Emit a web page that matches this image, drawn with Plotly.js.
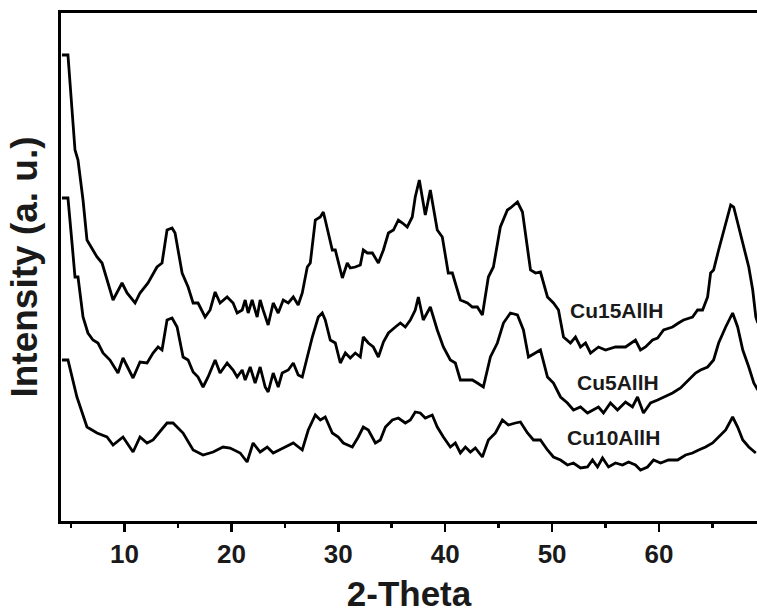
<!DOCTYPE html>
<html>
<head>
<meta charset="utf-8">
<script src="https://cdn.plot.ly/plotly-3.0.1.min.js"></script>
<style>html,body{margin:0;padding:0;background:#fff;}#chart{width:757px;height:613px;}</style>
</head>
<body>
<div id="chart"></div>
<script>
// 2-Theta (degrees) and intensity (a.u., offset-stacked)
const cu15X = [4.15,4.71,5.37,5.65,6.12,6.49,7.43,7.90,8.93,9.77,10.24,10.99,11.45,12.20,13.04,13.51,13.98,14.45,14.73,15.39,15.95,16.42,16.88,17.54,18.01,18.48,18.94,19.60,20.16,20.54,21.01,21.29,21.57,21.94,22.41,22.69,22.97,23.44,23.91,24.38,24.85,25.32,25.79,26.25,26.63,27.10,27.38,27.85,28.32,28.60,28.78,29.44,29.72,30.38,30.84,31.12,31.59,32.06,32.34,32.72,33.19,33.75,34.22,34.69,35.16,35.62,36.00,36.45,36.92,37.20,37.58,38.14,38.61,39.26,39.73,40.29,40.67,41.42,42.08,42.54,43.01,43.48,44.04,44.51,45.16,45.82,46.10,46.76,47.23,47.70,47.98,48.45,48.91,49.57,50.13,50.60,51.07,51.72,52.19,52.66,53.13,53.60,54.34,55.00,55.93,56.87,57.80,58.27,58.74,59.40,59.87,60.43,61.27,61.83,62.30,63.14,63.61,64.08,64.55,64.83,65.11,65.58,66.24,66.71,66.99,67.46,67.93,68.40,68.77,69.06,69.25];
const cu15Y = [466,466,371,361,321,281,264,258,221,238,228,218,228,238,254,258,291,293,288,248,234,218,218,204,211,229,218,224,218,208,211,221,208,221,204,221,211,196,218,208,221,218,224,216,228,254,258,301,304,309,301,271,271,243,258,253,254,256,271,268,268,258,271,288,291,301,298,294,304,324,341,306,331,291,284,248,248,221,218,214,214,206,244,254,294,311,313,319,309,271,251,248,249,224,218,211,184,178,184,174,178,168,174,171,174,174,181,171,174,181,183,191,194,198,201,204,211,211,224,248,251,271,298,316,314,294,271,254,231,204,198];

const cu5X = [4.15,4.71,5.09,5.37,5.65,6.12,6.58,7.05,7.52,7.99,8.64,9.39,9.86,10.33,10.80,11.45,12.11,12.67,13.14,13.51,13.98,14.45,14.92,15.48,15.95,16.42,16.88,17.35,17.82,18.48,18.94,19.60,20.16,20.54,21.01,21.29,21.76,22.22,22.69,23.16,23.44,23.91,24.38,24.75,25.32,25.79,26.25,26.63,27.10,27.57,28.13,28.50,28.78,29.25,29.72,30.19,30.66,31.12,31.59,32.06,32.34,32.81,33.28,33.75,34.22,34.69,35.34,35.81,36.27,36.74,37.20,37.49,37.95,38.61,39.26,39.83,40.48,40.95,41.42,42.08,42.54,43.01,43.57,44.23,44.88,45.45,46.10,46.76,47.32,47.79,48.45,48.91,49.57,50.13,50.79,51.44,52.00,52.66,53.31,53.78,54.34,54.81,55.46,56.12,56.87,57.52,57.99,58.55,59.21,59.87,60.43,61.27,62.02,62.77,63.42,63.89,64.55,65.11,65.58,66.24,66.89,67.36,67.84,68.40,68.87,69.25];
const cu5Y = [323,323,278,244,244,204,188,181,178,168,161,148,163,153,143,159,158,168,174,171,201,203,194,164,161,149,144,134,144,161,148,158,151,144,151,141,154,138,154,134,129,148,134,148,151,158,146,144,164,184,204,208,201,181,178,158,168,163,168,164,184,178,174,164,179,188,194,198,194,201,211,224,201,214,191,174,161,158,141,141,141,138,134,164,178,198,208,206,191,164,168,171,144,138,124,118,111,114,108,111,114,108,118,111,119,114,124,108,118,121,124,128,133,141,148,151,154,161,178,194,208,194,171,154,138,131];

const cu10X = [4.15,4.71,5.55,6.49,7.43,8.36,8.93,9.86,10.80,11.45,12.11,12.67,13.98,14.54,15.48,16.42,17.35,18.29,19.22,19.88,20.82,21.47,22.03,22.69,23.35,23.91,24.85,25.79,26.63,27.19,27.85,28.32,28.78,29.44,30.00,30.47,31.31,31.87,32.34,32.81,33.47,33.93,34.41,35.06,35.62,36.27,36.74,37.20,37.67,38.14,38.79,39.26,39.83,40.48,40.95,41.42,41.89,42.36,42.82,43.48,44.04,44.70,45.35,45.91,46.57,47.04,47.70,48.26,48.91,49.57,50.13,50.79,51.44,52.00,52.66,53.31,53.78,54.25,54.72,55.28,55.93,56.59,57.15,57.80,58.27,58.93,59.49,60.15,60.89,61.74,62.49,63.14,63.71,64.36,65.02,65.58,66.24,66.89,67.36,67.84,68.40,69.06];
const cu10Y = [161,161,124,94,88,84,76,84,69,84,78,81,98,98,88,71,66,69,74,73,68,59,78,69,74,68,73,78,71,91,106,101,104,88,84,78,74,84,94,91,78,81,94,101,103,98,101,109,108,103,106,94,84,74,78,68,74,69,73,64,81,88,101,96,98,99,88,81,81,71,64,61,56,58,53,54,61,54,63,54,58,56,59,56,51,54,61,58,61,61,66,68,71,74,78,84,91,104,94,81,74,68];

const seriesNames = ["Cu15AllH", "Cu5AllH", "Cu10AllH"];
const labelX = [56.07, 56.16, 55.74];
const labelY = [211, 139, 84];
const xTickVals = [10, 20, 30, 40, 50, 60];

const FONT = "'Liberation Sans', Arial, Helvetica, sans-serif";
const lineStyle = {color: "#000", width: 2.8};

const traces = [
  {x: cu15X, y: cu15Y, name: seriesNames[0], mode: "lines", line: lineStyle},
  {x: cu5X, y: cu5Y, name: seriesNames[1], mode: "lines", line: lineStyle},
  {x: cu10X, y: cu10Y, name: seriesNames[2], mode: "lines", line: lineStyle}
];

const annotations = seriesNames.map((n, i) => ({
  x: labelX[i], y: labelY[i], xref: "x", yref: "y", text: "<b>" + n + "</b>",
  showarrow: false, font: {family: FONT, size: 21, color: "#1a1a1a"},
  xanchor: "center", yanchor: "middle"
}));

const layout = {
  width: 757, height: 613,
  margin: {l: 61, r: 0, t: 13, b: 92, pad: 0},
  paper_bgcolor: "#fff", plot_bgcolor: "#fff",
  showlegend: false,
  font: {family: FONT, color: "#1a1a1a"},
  xaxis: {
    range: [4.06, 69.17], showgrid: false, zeroline: false,
    showline: true, linecolor: "#000", linewidth: 3, mirror: true,
    ticks: "outside", ticklen: 8, tickwidth: 2.5, tickcolor: "#000",
    tickvals: xTickVals, ticktext: xTickVals.map(v => "<b>" + v + "</b>"),
    tickfont: {family: FONT, size: 26, color: "#1a1a1a"},
    minor: {dtick: 5, tick0: 0, ticks: "outside", ticklen: 4, tickwidth: 2.5, tickcolor: "#000", showgrid: false},
    title: {text: "<b>2-Theta</b>", font: {family: FONT, size: 35, color: "#1a1a1a"}, standoff: 16},
    automargin: false, fixedrange: true
  },
  yaxis: {
    range: [0, 508], showgrid: false, zeroline: false,
    showline: true, linecolor: "#000", linewidth: 3, mirror: false,
    ticks: "", showticklabels: false,
    title: {text: "<b>Intensity (a. u.)</b>", font: {family: FONT, size: 37, color: "#1a1a1a"}, standoff: 10},
    automargin: false, fixedrange: true
  },
  annotations: annotations
};

Plotly.newPlot("chart", traces, layout, {staticPlot: true, displayModeBar: false});
</script>
</body>
</html>
